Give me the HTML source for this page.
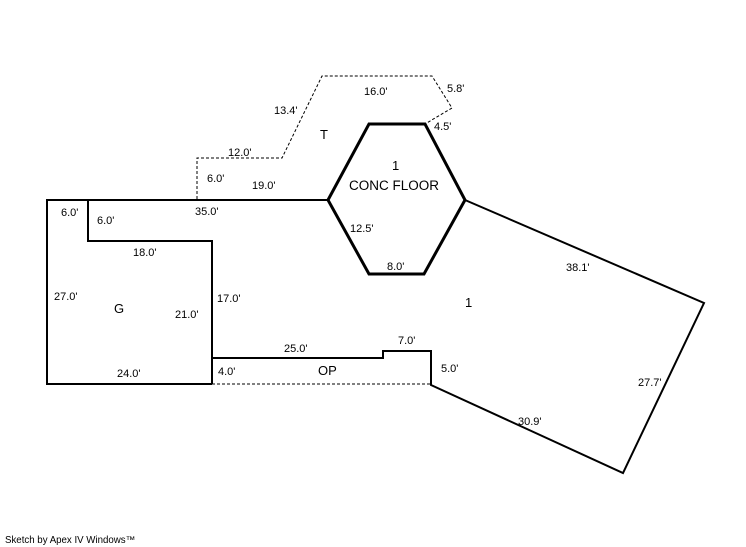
<!DOCTYPE html>
<html><head><meta charset="utf-8"><style>
html,body{margin:0;padding:0;background:#fff;}
svg{display:block;}
text{font-family:"Liberation Sans",sans-serif;font-size:11px;fill:#000;}
</style></head><body>
<svg width="746" height="547" viewBox="0 0 746 547" xmlns="http://www.w3.org/2000/svg">
<g fill="none" stroke="#000">
<polyline stroke-width="1" stroke-dasharray="3,2" points="197,199 197,158 282,158 322,76 432,76 452,108 425,124"/>
<line stroke-width="1" stroke-dasharray="3,2" x1="212" y1="384" x2="431" y2="384"/>
<polyline stroke-width="2" points="88,200 47,200 47,384 212,384"/>
<polyline stroke-width="2" points="88,200 88,241 212,241 212,384"/>
<line stroke-width="2" x1="88" y1="200" x2="328" y2="200"/>
<polygon stroke-width="3" points="328,200 369,124 425,124 465,200 424,274 369,274"/>
<polyline stroke-width="2" points="465,200 704,303 623,473 431,385 431,351 383,351 383,358 212,358"/>
</g>
<text x="364" y="95">16.0'</text>
<text x="447" y="92">5.8'</text>
<text x="274" y="114">13.4'</text>
<text x="434" y="130">4.5'</text>
<text x="320" y="139" style="font-size:13px">T</text>
<text x="392" y="170" style="font-size:13px">1</text>
<text x="349" y="190" style="font-size:13.5px">CONC FLOOR</text>
<text x="228" y="156">12.0'</text>
<text x="207" y="182">6.0'</text>
<text x="252" y="189">19.0'</text>
<text x="61" y="216">6.0'</text>
<text x="97" y="224">6.0'</text>
<text x="195" y="215">35.0'</text>
<text x="350" y="232">12.5'</text>
<text x="133" y="256">18.0'</text>
<text x="387" y="270">8.0'</text>
<text x="566" y="271">38.1'</text>
<text x="54" y="300">27.0'</text>
<text x="217" y="302">17.0'</text>
<text x="465" y="307" style="font-size:13px">1</text>
<text x="114" y="313" style="font-size:13px">G</text>
<text x="175" y="318">21.0'</text>
<text x="284" y="352">25.0'</text>
<text x="398" y="344">7.0'</text>
<text x="441" y="372">5.0'</text>
<text x="318" y="375" style="font-size:13px">OP</text>
<text x="218" y="375">4.0'</text>
<text x="117" y="377">24.0'</text>
<text x="638" y="386">27.7'</text>
<text x="518" y="425">30.9'</text>
<text x="5" y="543" style="font-size:9.7px">Sketch by Apex IV Windows™</text>
</svg>
</body></html>
